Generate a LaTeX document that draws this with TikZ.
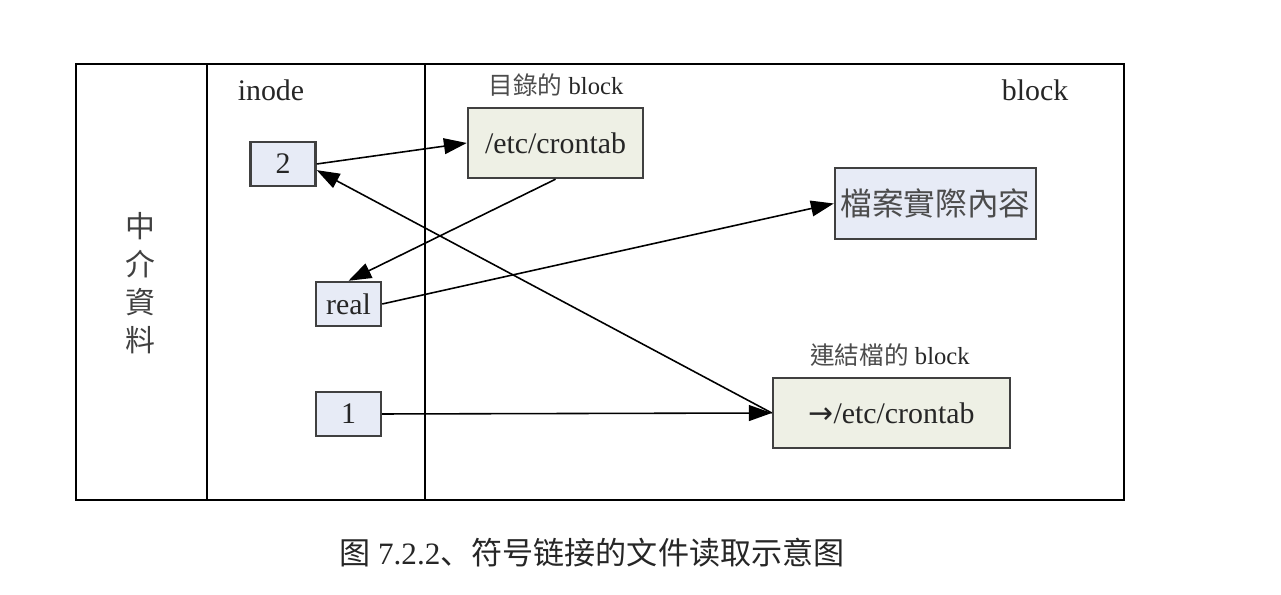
\documentclass[tikz,border=0pt]{standalone}
\usepackage{fontspec}
\setmainfont{Liberation Serif}
\newfontfamily\cjk{Noto Sans CJK TC}
\newfontfamily\cjksc{Noto Sans CJK SC}
\newfontfamily\arrowfont{DejaVu Sans}
\usetikzlibrary{arrows.meta}
\definecolor{inodefill}{RGB}{231,235,246}
\definecolor{blockfill}{RGB}{238,240,229}

\begin{document}
\begin{tikzpicture}[scale=1,
    box/.style={draw=black!75, line width=1.4pt, inner sep=0pt, text=black!85,
      font=\fontsize{17}{20}\selectfont},
    ibox/.style={box, fill=inodefill, minimum width=1.3cm, minimum height=0.88cm},
    bbox/.style={box, fill=blockfill, minimum height=1.4cm},
    lab/.style={text=black!85, font=\fontsize{17}{20}\selectfont},
    small/.style={text=black!85, font=\fontsize{14}{16}\selectfont},
    arr/.style={line width=0.9pt, -{Triangle[length=13pt,width=9pt]}}]
    \useasboundingbox (0,0) rectangle (25.62,11.9);

    \coordinate (nw) at (1.52,10.62);
    \coordinate (se) at (22.48,1.9);
    \draw [line width=1.4pt] (nw) rectangle (se);
    \draw [line width=1.4pt] (4.14,10.62) -- (4.14,1.9);
    \draw [line width=1.4pt] (8.5,10.62) -- (8.5,1.9);

    \node [lab] (inode) at (5.42,10.1) {inode};
    \node [lab] (block) at (20.7,10.1) {block};
    \node [text=black!75, align=center, font=\cjk\fontsize{17}{21.5}\selectfont] (meta) at (2.8,6.24)
      {中\\介\\資\\料};

    \node [ibox] (two) at (5.66,8.62) {2};
    \node [ibox] (real) at (6.97,5.82) {real};
    \node [ibox] (one) at (6.97,3.62) {1};

    \node [bbox, minimum width=3.5cm] (dir) at (11.11,9.04) {/etc/crontab};
    \node [small] (dirlab) at (11.12,10.2) {{\color{black!70}\cjk 目錄的} block};
    \node [box, fill=inodefill, minimum width=4.02cm, minimum height=1.42cm, text=black!70,
      font=\cjk\fontsize{18}{20}\selectfont] (data) at (18.71,7.83) {檔案實際內容};
    \node [bbox, minimum width=4.74cm] (link) at (17.83,3.64) {{\arrowfont →}/etc/crontab};
    \node [small] (linklab) at (17.8,4.8) {{\color{black!70}\cjk 連結檔的} block};

    \draw [arr] (two.east) -- (dir.west);
    \draw [arr] (dir.south) -- (real.north);
    \draw [arr] (real.east) -- (data.west);
    \draw [arr] (one.east) -- (link.west);
    \draw [arr] (link.west) -- ([yshift=-3.5pt]two.east);

    \node [text=black!85, font=\fontsize{17.7}{21}\selectfont] (caption) at (11.84,0.84)
      {{\cjksc 图} 7.2.2{\cjksc 、符号链接的文件读取示意图}};
\end{tikzpicture}
\end{document}
